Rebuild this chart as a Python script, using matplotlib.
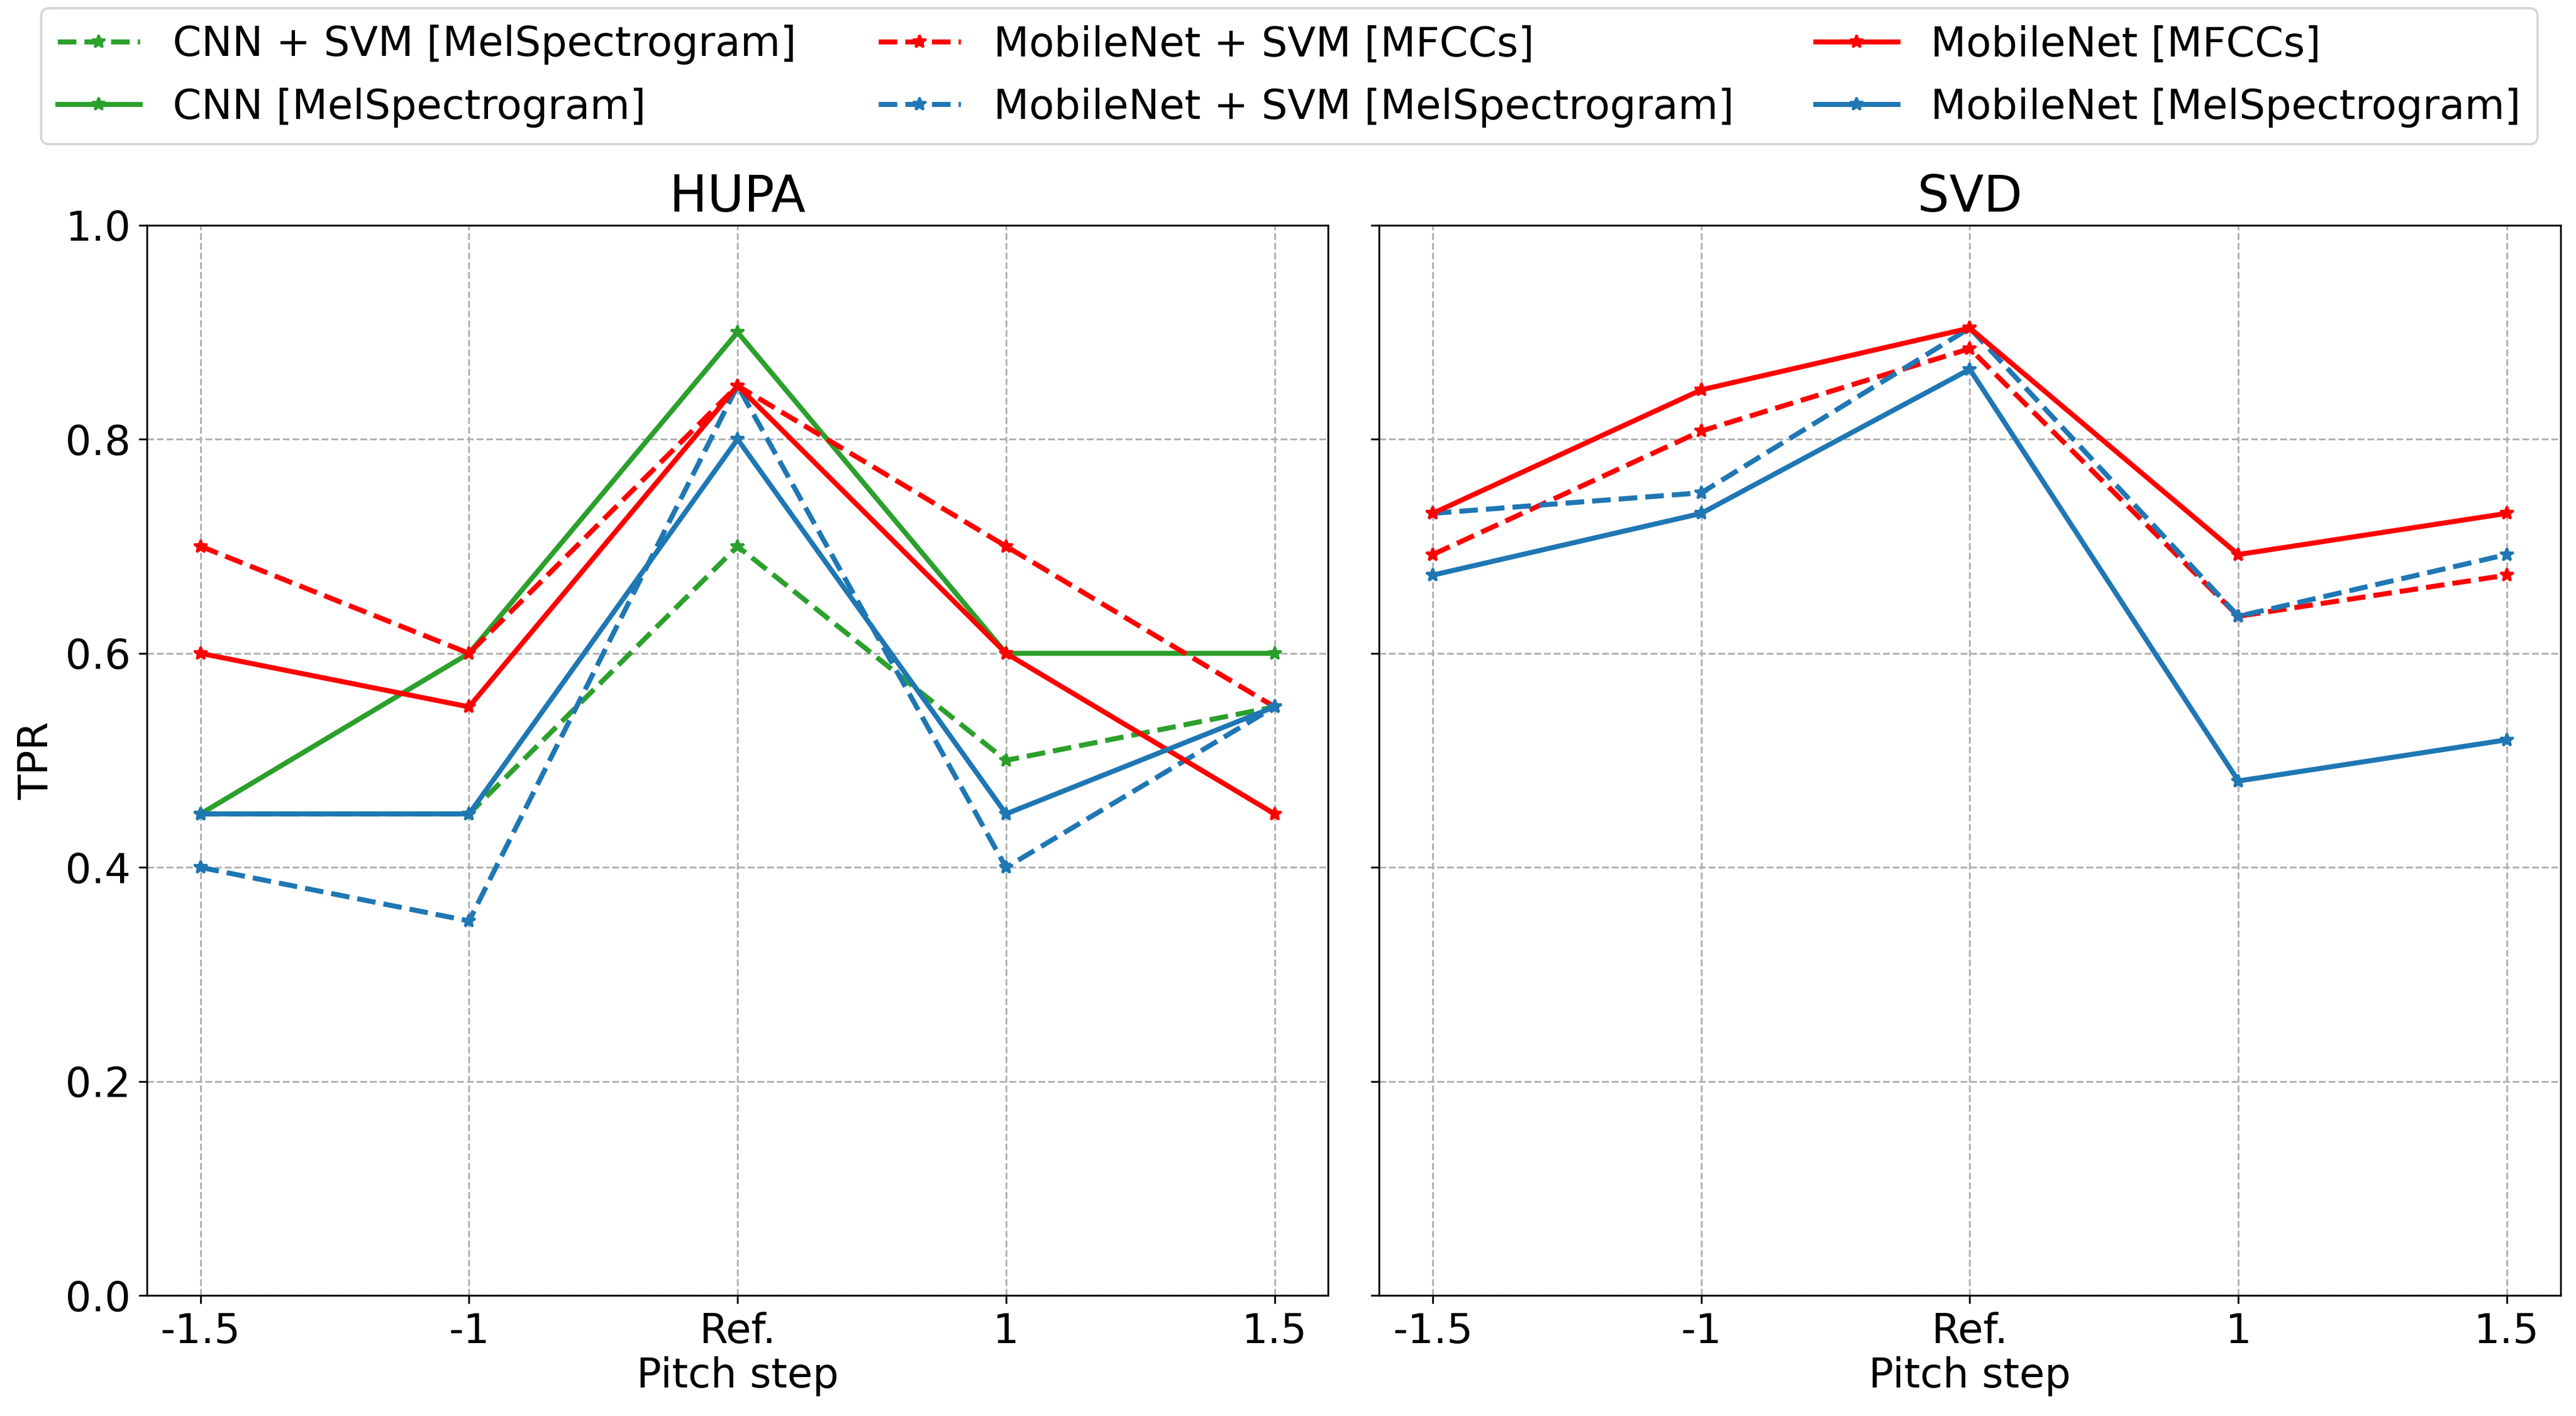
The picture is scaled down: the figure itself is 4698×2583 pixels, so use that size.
import matplotlib.pyplot as plt

# Pitch steps (categorical x axis)
steps = ['-1.5', '-1', 'Ref.', '1', '1.5']

# HUPA TPR values
hupa_cnn_svm_mel = [0.45, 0.45, 0.70, 0.50, 0.55]
hupa_cnn_mel = [0.45, 0.60, 0.90, 0.60, 0.60]
hupa_mob_svm_mfcc = [0.70, 0.60, 0.85, 0.70, 0.55]
hupa_mob_svm_mel = [0.40, 0.35, 0.85, 0.40, 0.55]
hupa_mob_mfcc = [0.60, 0.55, 0.85, 0.60, 0.45]
hupa_mob_mel = [0.45, 0.45, 0.80, 0.45, 0.55]

# SVD TPR values
svd_mob_svm_mfcc = [36/52, 42/52, 46/52, 33/52, 35/52]
svd_mob_svm_mel = [38/52, 39/52, 47/52, 33/52, 36/52]
svd_mob_mfcc = [38/52, 44/52, 47/52, 36/52, 38/52]
svd_mob_mel = [35/52, 38/52, 45/52, 25/52, 27/52]

plt.rcParams['font.size'] = 18

fig, (ax1, ax2) = plt.subplots(1, 2, figsize=(15.66, 8.61), sharey=True)
fig.subplots_adjust(left=0.057, right=0.994, bottom=0.085, top=0.841, wspace=0.043)

x = list(range(len(steps)))
lw = 2.2
ms = 6

# Left panel: HUPA
ax1.plot(x, hupa_cnn_svm_mel, '*--', color='tab:green', lw=lw, ms=ms, label='CNN + SVM [MelSpectrogram]')
ax1.plot(x, hupa_cnn_mel, '*-', color='tab:green', lw=lw, ms=ms, label='CNN [MelSpectrogram]')
ax1.plot(x, hupa_mob_svm_mfcc, '*--', color='red', lw=lw, ms=ms, label='MobileNet + SVM [MFCCs]')
ax1.plot(x, hupa_mob_svm_mel, '*--', color='tab:blue', lw=lw, ms=ms, label='MobileNet + SVM [MelSpectrogram]')
ax1.plot(x, hupa_mob_mfcc, '*-', color='red', lw=lw, ms=ms, label='MobileNet [MFCCs]')
ax1.plot(x, hupa_mob_mel, '*-', color='tab:blue', lw=lw, ms=ms, label='MobileNet [MelSpectrogram]')

# Right panel: SVD
ax2.plot(x, svd_mob_svm_mfcc, '*--', color='red', lw=lw, ms=ms)
ax2.plot(x, svd_mob_svm_mel, '*--', color='tab:blue', lw=lw, ms=ms)
ax2.plot(x, svd_mob_mfcc, '*-', color='red', lw=lw, ms=ms)
ax2.plot(x, svd_mob_mel, '*-', color='tab:blue', lw=lw, ms=ms)

for ax, title in [(ax1, 'HUPA'), (ax2, 'SVD')]:
    ax.set_title(title, fontsize=22)
    ax.set_xticks(x)
    ax.set_xticklabels(steps)
    ax.set_xlabel('Pitch step', labelpad=2)
    ax.set_ylim(0, 1)
    ax.grid(True, linestyle='--', color='#b0b0b0')

ax1.set_ylabel('TPR')

fig.legend(loc='upper left', ncol=3, mode='expand', borderaxespad=0,
           labelspacing=0.55, bbox_to_anchor=(0.016, 0.8, 0.969, 0.194), fontsize=18)

plt.savefig('out.png', dpi=300)
